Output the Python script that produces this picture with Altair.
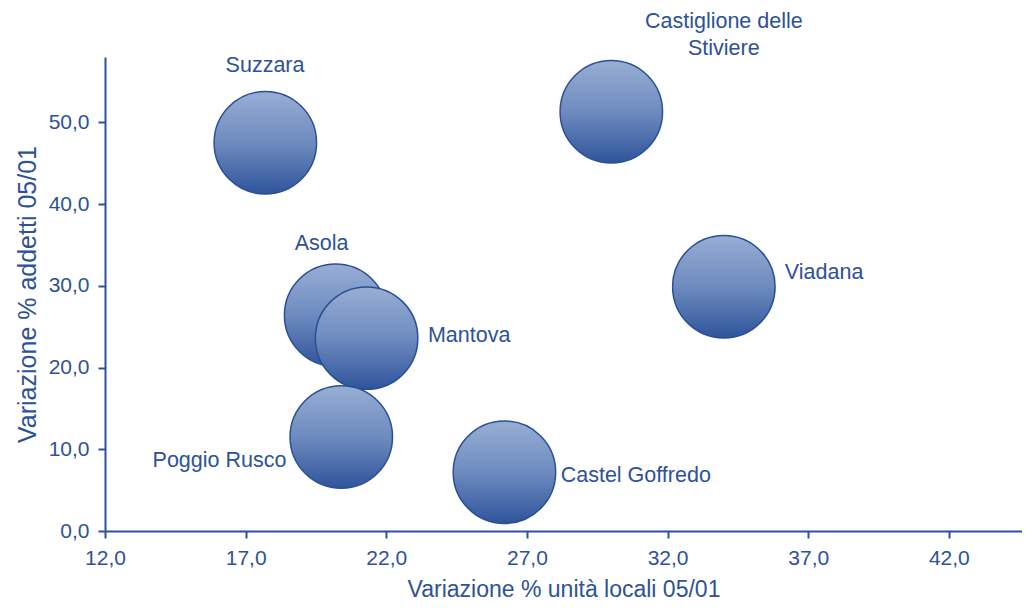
import altair as alt
import pandas as pd

# Bubble data
comuni = ["Suzzara", "Castiglione delle Stiviere", "Viadana", "Asola", "Mantova", "Poggio Rusco", "Castel Goffredo"]
var_unita = [17.7, 30.0, 34.0, 20.2, 21.3, 20.4, 26.2]
var_addetti = [47.5, 51.3, 29.9, 26.4, 23.6, 11.5, 7.2]

# Label anchors (data units)
label_text = ["Suzzara", "Castiglione delle\nStiviere", "Viadana", "Asola", "Mantova", "Poggio Rusco", "Castel Goffredo"]
label_x = [17.69, 34.0, 36.17, 19.7, 23.48, 18.45, 28.2]
label_y = [56.9, 62.3, 31.6, 35.1, 23.9, 8.6, 6.7]
label_align = ["center", "center", "left", "center", "left", "right", "left"]

x_ticks = [12, 17, 22, 27, 32, 37, 42]
y_ticks = [0, 10, 20, 30, 40, 50]

BLUE = "#2d5298"
FONT = "Liberation Sans"

bubbles = pd.DataFrame({"comune": comuni, "x": var_unita, "y": var_addetti,
                        "ord": list(range(len(comuni)))})
labels = pd.DataFrame({"t": label_text, "x": label_x, "y": label_y, "a": label_align})

fmt = "replace(format(datum.value, '.1f'), '.', ',')"

xscale = alt.Scale(domain=[12, 44.6], nice=False, zero=False)
yscale = alt.Scale(domain=[0, 58], nice=False)

grad = alt.Gradient(
    gradient="linear",
    stops=[alt.GradientStop(color="#98aed4", offset=0),
           alt.GradientStop(color="#6d8bbf", offset=0.5),
           alt.GradientStop(color="#2f549b", offset=1)],
    x1=0, x2=0, y1=0, y2=1,
)

base_x = alt.X("x:Q", scale=xscale,
               axis=alt.Axis(values=x_ticks, labelExpr=fmt, grid=False, labelFlush=False,
                             title="Variazione % unità locali 05/01",
                             titlePadding=10))
base_y = alt.Y("y:Q", scale=yscale,
               axis=alt.Axis(values=y_ticks, labelExpr=fmt, grid=False, labelFlush=False,
                             title="Variazione % addetti 05/01", titleFontSize=25,
                             titlePadding=8))

points = alt.Chart(bubbles).mark_circle(
    fill=grad, stroke="#2a4f96", strokeWidth=1.5, opacity=1, size=10500
).encode(x=base_x, y=base_y, order=alt.Order("ord:Q"))

def lab(al):
    return alt.Chart(labels).transform_filter(alt.datum.a == al).mark_text(
        align=al, baseline="middle", font=FONT, fontSize=21.5, color=BLUE, lineBreak="\n",
        lineHeight=27
    ).encode(x=alt.X("x:Q", scale=xscale), y=alt.Y("y:Q", scale=yscale), text="t:N")

chart = alt.layer(points, lab("center"), lab("left"), lab("right")).properties(
    width=917, height=474,
    autosize=alt.AutoSizeParams(type="none"),
    padding={"left": 97, "top": 49, "right": 0, "bottom": 71},
).configure_view(stroke=None).configure_axis(
    domainColor=BLUE, domainWidth=2, tickColor=BLUE, tickWidth=2, tickSize=7,
    labelColor=BLUE, labelFont=FONT, labelFontSize=21,
    titleColor=BLUE, titleFont=FONT, titleFontSize=23, titleFontWeight="normal",
).configure_axisX(labelPadding=9).configure_axisY(labelPadding=9)

chart.save("out.html", embed_options={"renderer": "svg", "actions": False})
